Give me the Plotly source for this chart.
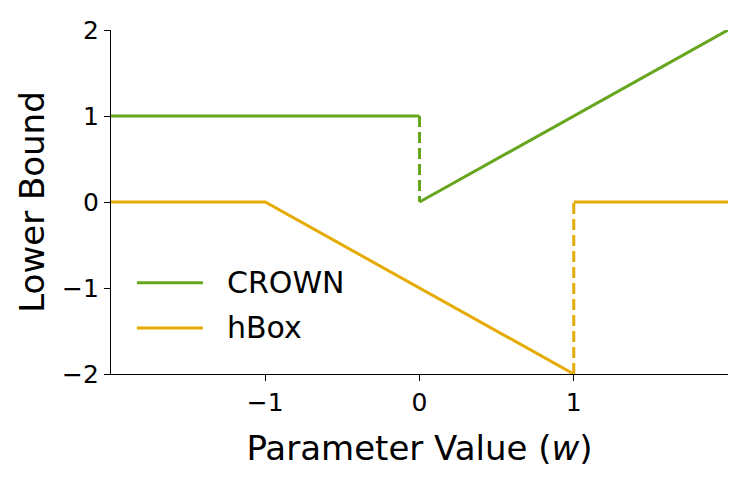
import plotly.graph_objects as go

# piecewise lower bounds over the parameter value w
crown_x = [-2, 0, None, 0, 2]
crown_y = [1, 1, None, 0, 2]
crown_jump_x = [0, 0]
crown_jump_y = [1, 0]

hbox_x = [-2, -1, 1, None, 1, 2]
hbox_y = [0, 0, -2, None, 0, 0]
hbox_jump_x = [1, 1]
hbox_jump_y = [-2, 0]

names = ["CROWN", "hBox"]
x_ticks = [-1, 0, 1]
y_ticks = [-2, -1, 0, 1, 2]

green = "#66a61e"
orange = "#e6ab02"
font = "DejaVu Sans"

fig = go.Figure()
fig.add_trace(go.Scatter(x=crown_x, y=crown_y, mode="lines", name=names[0],
	line=dict(color=green, width=3), cliponaxis=False))
fig.add_trace(go.Scatter(x=crown_jump_x, y=crown_jump_y, mode="lines",
	line=dict(color=green, width=3, dash="11px,5px"), cliponaxis=False))
fig.add_trace(go.Scatter(x=hbox_x, y=hbox_y, mode="lines", name=names[1],
	line=dict(color=orange, width=3), cliponaxis=False))
fig.add_trace(go.Scatter(x=hbox_jump_x, y=hbox_jump_y, mode="lines",
	line=dict(color=orange, width=3, dash="11px,5px"), cliponaxis=False))

# hand made legend, so the sample lines can be as long as the original ones
for i, (name, col) in enumerate(zip(names, [green, orange])):
	ypos = 0.265 - i * 0.131
	fig.add_shape(type="line", xref="paper", yref="paper", x0=0.042, x1=0.149, y0=ypos, y1=ypos,
		line=dict(color=col, width=3))
	fig.add_annotation(xref="paper", yref="paper", x=0.184, y=ypos, text=name, showarrow=False,
		xanchor="left", yanchor="middle", font=dict(family=font, size=30, color="black"))

axis = dict(showgrid=False, zeroline=False, showline=True, linecolor="black", linewidth=1.3,
	ticks="outside", ticklen=6, tickwidth=1.3, tickcolor="black", automargin=False,
	ticklabeloverflow="allow", tickfont=dict(family=font, size=25, color="black"))

fig.update_xaxes(range=[-2, 2], tickvals=x_ticks, ticktext=["\u22121", "0", "1"],
	title=dict(text="Parameter Value (<i>w</i>)", font=dict(family=font, size=34, color="black"), standoff=20),
	**axis)
fig.update_yaxes(range=[-2, 2], tickvals=y_ticks, ticktext=["\u22122", "\u22121", "0", "1", "2"],
	title=dict(text="Lower Bound", font=dict(family=font, size=34, color="black"), standoff=7),
	**axis)

fig.update_layout(
	width=747, height=498,
	margin=dict(l=103, r=27, t=22, b=132),
	plot_bgcolor="white", paper_bgcolor="white",
	showlegend=False,
)

fig.write_html("out.html")
